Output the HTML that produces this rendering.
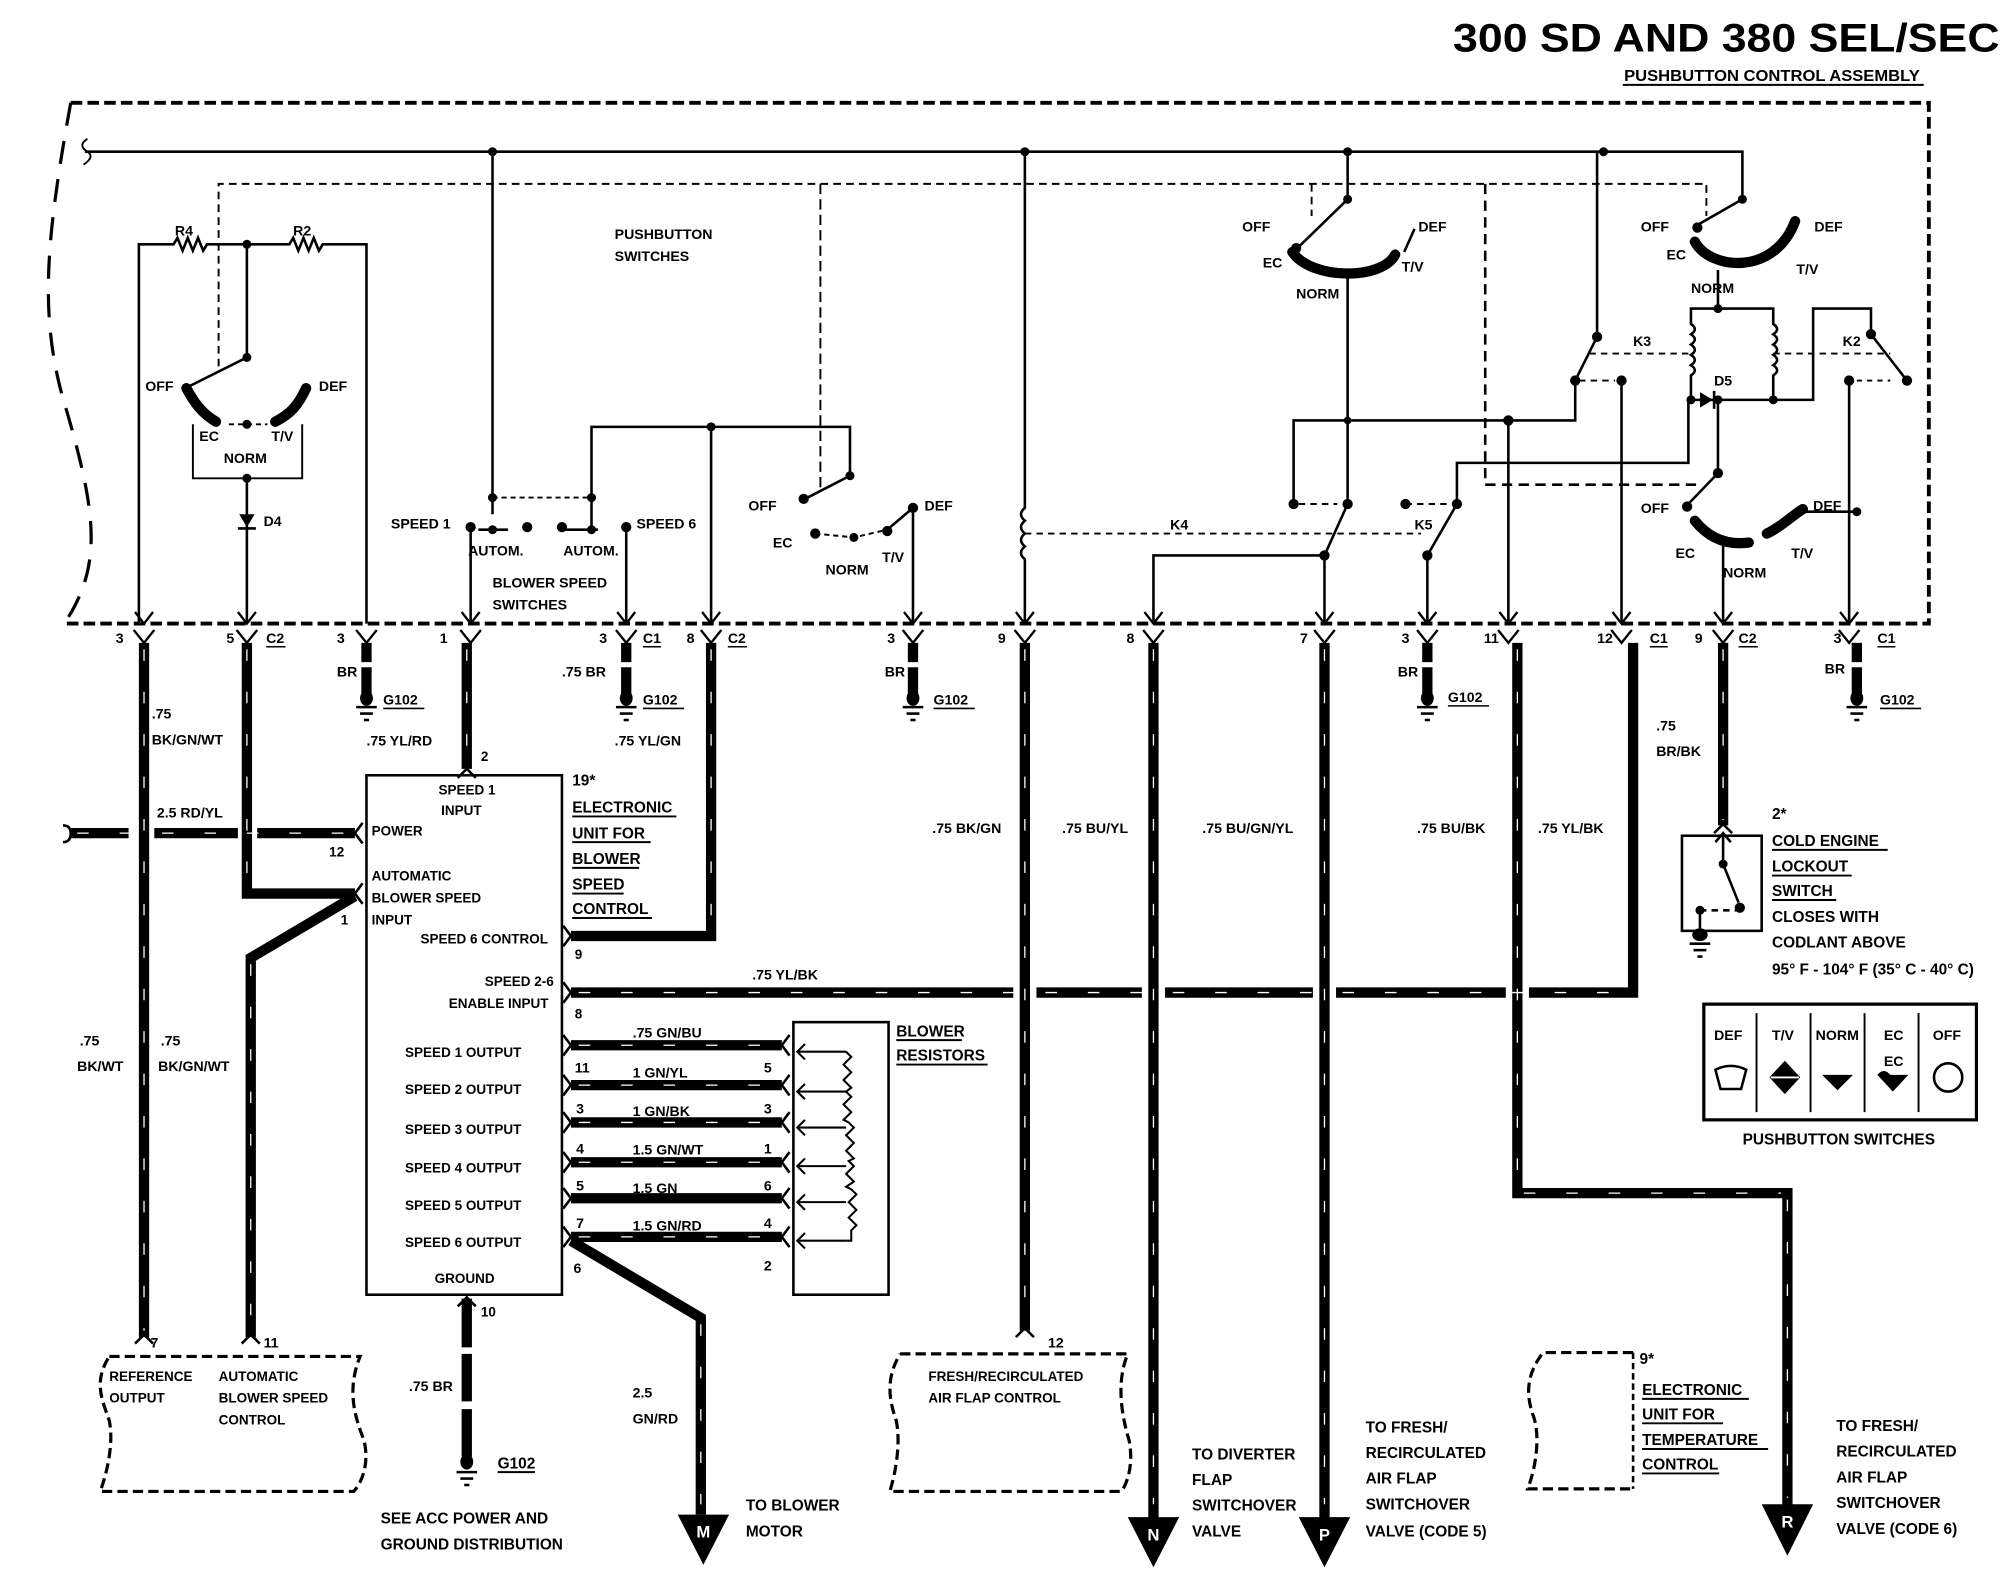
<!DOCTYPE html>
<html><head><meta charset="utf-8"><style>
html,body{margin:0;padding:0;background:#fff;}
svg{display:block;}
text{font-family:"Liberation Sans Narrow","Liberation Sans",sans-serif;font-weight:bold;fill:#000;}
</style></head><body>
<svg width="2006" height="1584" viewBox="0 0 1560 1232" preserveAspectRatio="none" xmlns="http://www.w3.org/2000/svg">
<defs>
<g id="gnd"><line x1="-8" y1="0" x2="8" y2="0" stroke="#000" stroke-width="2"/><line x1="-5" y1="5" x2="5" y2="5" stroke="#000" stroke-width="2"/><line x1="-2" y1="10" x2="2" y2="10" stroke="#000" stroke-width="2"/></g>
</defs>
<rect width="1560" height="1232" fill="#fff"/>
<!-- title -->
<text x="1555" y="40" font-size="31" text-anchor="end" style="font-family:'Liberation Sans',sans-serif" textLength="425" lengthAdjust="spacingAndGlyphs">300 SD AND 380 SEL/SEC</text>
<text x="1263" y="63" font-size="12" textLength="230" lengthAdjust="spacingAndGlyphs">PUSHBUTTON CONTROL ASSEMBLY</text>
<line x1="1262" y1="66" x2="1496" y2="66" stroke="#000" stroke-width="1.5"/>

<g fill="none" stroke="#000">
<!-- assembly border -->
<path d="M55,80 H1500 V485 H50" stroke-width="3" stroke-dasharray="9 4"/>
<path d="M55,80 C35,190 30,250 52,320 C75,400 80,440 50,485" stroke-width="2.5" stroke-dasharray="18 12"/>
<!-- top bus -->
<path d="M68,108 q-8,5 0,10 q6,4 -3,10" stroke-width="1.5"/>
<path d="M66,118 H1355 V155" stroke-width="2"/>
<!-- dashed mechanical link -->
<path d="M170,285 V143 H1327 V168" stroke-width="1.5" stroke-dasharray="6 4"/>
<path d="M1020,143 V168" stroke-width="1.5" stroke-dasharray="6 4"/>
<path d="M1155,143 V377 H1322" stroke-width="2" stroke-dasharray="8 5"/>
<path d="M638,143 V380" stroke-width="1.5" stroke-dasharray="8 4"/>

<!-- R4/R2 -->
<path d="M108,485 V190 H135 l3,-5 l4,10 l4,-10 l4,10 l4,-10 l4,10 l3,-5 H225 l3,-5 l4,10 l4,-10 l4,10 l4,-10 l4,10 l3,-5 H285 V485" stroke-width="2"/>
<path d="M192,190 V278 L148,300" stroke-width="2"/>
<path d="M145,302 C152,315 158,322 168,328" stroke-width="8" stroke-linecap="round"/>
<path d="M238,302 C232,315 226,322 214,328" stroke-width="8" stroke-linecap="round"/>
<path d="M178,330 L208,330" stroke-width="1.5" stroke-dasharray="4 3"/>
<path d="M150,330 V372 H235 V330" stroke-width="1.5"/>
<path d="M192,372 V485" stroke-width="2"/>
<!-- speed switches -->
<path d="M383,118 V400" stroke-width="2"/>
<path d="M383,387 H460" stroke-width="1.5" stroke-dasharray="4 3"/>
<path d="M460,410 V332 H553 V485" stroke-width="2"/>
<path d="M553,332 H661 V370 L628,387" stroke-width="2"/>
<path d="M366,410 V485" stroke-width="2"/>
<path d="M487,410 V485" stroke-width="2"/>
<path d="M372,412 L395,412 M437,412 L465,412" stroke-width="2"/>
<!-- middle switch -->
<path d="M634,415 L664,418 L690,412" stroke-width="1.5" stroke-dasharray="4 3"/>
<path d="M690,412 L710,395 V485" stroke-width="2"/>
<!-- x797 -->
<path d="M797,118 V395 q-6,5 0,10 q-6,5 0,10 q-6,5 0,10 q-6,5 0,10 V485" stroke-width="2"/>
<!-- top middle switch -->
<path d="M1048,118 V155 L1010,192" stroke-width="2"/>
<path d="M1005,196 C1020,218 1075,218 1085,198" stroke-width="8" stroke-linecap="round"/>
<path d="M1092,196 L1100,178" stroke-width="2"/>
<path d="M1048,213 V392 L1030,432 H897 V485" stroke-width="2"/>
<path d="M1030,432 V485" stroke-width="2"/>
<path d="M1006,392 V327 H1225 V296" stroke-width="2"/>
<path d="M1010,392 H1040" stroke-width="1.5" stroke-dasharray="5 4"/>
<path d="M797,415 H1105" stroke-width="1.5" stroke-dasharray="5 4"/>
<!-- K5 -->
<path d="M1093,392 H1128" stroke-width="1.5" stroke-dasharray="5 4"/>
<path d="M1110,485 V432 L1133,392 V360 H1313 V311" stroke-width="2"/>
<path d="M1173,327 V485" stroke-width="2"/>
<!-- K3 -->
<path d="M1242,118 V262 L1225,296" stroke-width="2"/>
<path d="M1261,296 V485" stroke-width="2"/>
<path d="M1228,296 H1256" stroke-width="1.5" stroke-dasharray="5 4"/>
<path d="M1236,275 H1315" stroke-width="1.5" stroke-dasharray="5 4"/>
<!-- right top switch -->
<path d="M1355,155 L1320,175" stroke-width="2"/>
<path d="M1318,188 C1330,210 1380,215 1396,172" stroke-width="8" stroke-linecap="round"/>
<path d="M1336,210 V240" stroke-width="2"/>
<!-- coils -->
<path d="M1315,311 V292 q6,-4 0,-8 q6,-4 0,-8 q6,-4 0,-8 q6,-4 0,-8 q6,-4 0,-8 V240 H1379 V252 q6,4 0,8 q6,4 0,8 q6,4 0,8 q6,4 0,8 q6,4 0,8 V311 H1410 V240 H1455 V260 L1483,296" stroke-width="2"/>
<path d="M1315,311 H1379" stroke-width="2"/>
<path d="M1379,275 H1470" stroke-width="1.5" stroke-dasharray="5 4"/>
<path d="M1438,296 V485" stroke-width="2"/>
<path d="M1444,296 H1470" stroke-width="1.5" stroke-dasharray="4 4"/>
<!-- bottom right switch -->
<path d="M1336,311 V368 L1312,393" stroke-width="2"/>
<path d="M1318,405 C1330,420 1345,424 1360,422" stroke-width="8" stroke-linecap="round"/>
<path d="M1374,415 C1385,410 1395,400 1402,396" stroke-width="8" stroke-linecap="round"/>
<path d="M1402,398 H1444" stroke-width="2"/>
<path d="M1340,422 V485" stroke-width="2"/>
<path d="M1268,485 V360" stroke-width="2" opacity="0"/>
</g>
<!-- diodes -->
<polygon points="186,400 198,400 192,410" fill="#000"/><line x1="185" y1="411" x2="199" y2="411" stroke="#000" stroke-width="2"/>
<polygon points="1322,305 1322,317 1332,311" fill="#000"/><line x1="1333" y1="304" x2="1333" y2="318" stroke="#000" stroke-width="2"/>
<!-- dots -->
<g fill="#000">
<circle cx="383" cy="118" r="3.5"/><circle cx="797" cy="118" r="3.5"/><circle cx="1048" cy="118" r="3.5"/><circle cx="1247" cy="118" r="3.5"/>
<circle cx="192" cy="190" r="3.5"/><circle cx="192" cy="278" r="3.5"/><circle cx="145" cy="302" r="4"/><circle cx="238" cy="302" r="4"/><circle cx="192" cy="330" r="3.5"/><circle cx="192" cy="372" r="3.5"/>
<circle cx="383" cy="387" r="3.5"/><circle cx="460" cy="387" r="3.5"/><circle cx="366" cy="410" r="4"/><circle cx="410" cy="410" r="4"/><circle cx="437" cy="410" r="4"/><circle cx="487" cy="410" r="4"/><circle cx="383" cy="412" r="3.5"/><circle cx="460" cy="412" r="3.5"/>
<circle cx="553" cy="332" r="3.5"/><circle cx="661" cy="370" r="3.5"/><circle cx="625" cy="388" r="4"/><circle cx="634" cy="415" r="4"/><circle cx="664" cy="418" r="3.5"/><circle cx="690" cy="413" r="4"/><circle cx="710" cy="395" r="4"/>
<circle cx="1048" cy="155" r="3.5"/><circle cx="1008" cy="193" r="4"/><circle cx="1048" cy="327" r="3"/><circle cx="1006" cy="392" r="4"/><circle cx="1048" cy="392" r="4"/><circle cx="1030" cy="432" r="4"/>
<circle cx="1093" cy="392" r="4"/><circle cx="1133" cy="392" r="4"/><circle cx="1110" cy="432" r="4"/><circle cx="1173" cy="327" r="4"/>
<circle cx="1242" cy="262" r="4"/><circle cx="1225" cy="296" r="4"/><circle cx="1261" cy="296" r="4"/>
<circle cx="1355" cy="155" r="3.5"/><circle cx="1320" cy="177" r="4"/><circle cx="1336" cy="240" r="3.5"/><circle cx="1315" cy="311" r="3.5"/><circle cx="1336" cy="311" r="3.5"/><circle cx="1379" cy="311" r="3.5"/>
<circle cx="1455" cy="260" r="4"/><circle cx="1483" cy="296" r="4"/><circle cx="1438" cy="296" r="4"/>
<circle cx="1336" cy="368" r="4"/><circle cx="1312" cy="394" r="4"/><circle cx="1444" cy="398" r="3.5"/>
</g>
<!-- labels top -->
<g font-size="11">
<text x="136" y="183">R4</text><text x="228" y="183">R2</text>
<text x="113" y="304">OFF</text><text x="248" y="304">DEF</text><text x="155" y="343">EC</text><text x="211" y="343">T/V</text><text x="174" y="360">NORM</text><text x="205" y="409">D4</text>
<text x="478" y="186">PUSHBUTTON</text><text x="478" y="203">SWITCHES</text>
<text x="304" y="411">SPEED 1</text><text x="495" y="411">SPEED 6</text>
<text x="364" y="432">AUTOM.</text><text x="438" y="432">AUTOM.</text>
<text x="383" y="457">BLOWER SPEED</text><text x="383" y="474">SWITCHES</text>
<text x="582" y="397">OFF</text><text x="719" y="397">DEF</text><text x="601" y="426">EC</text><text x="642" y="447">NORM</text><text x="686" y="437">T/V</text>
<text x="966" y="180">OFF</text><text x="1103" y="180">DEF</text><text x="982" y="208">EC</text><text x="1090" y="211">T/V</text><text x="1008" y="232">NORM</text>
<text x="910" y="412">K4</text><text x="1100" y="412">K5</text>
<text x="1276" y="180">OFF</text><text x="1411" y="180">DEF</text><text x="1296" y="202">EC</text><text x="1397" y="213">T/V</text><text x="1315" y="228">NORM</text>
<text x="1270" y="269">K3</text><text x="1433" y="269">K2</text><text x="1333" y="300">D5</text>
<text x="1276" y="399">OFF</text><text x="1410" y="397">DEF</text><text x="1303" y="434">EC</text><text x="1340" y="449">NORM</text><text x="1393" y="434">T/V</text>
</g>
<!-- connector row -->
<g stroke="#000" stroke-width="1.8" fill="none">
<path d="M105,476 L112,485 L119,476 M185,476 L192,485 L199,476 M359,476 L366,485 L373,476 M480,476 L487,485 L494,476 M546,476 L553,485 L560,476 M703,476 L710,485 L717,476 M790,476 L797,485 L804,476 M890,476 L897,485 L904,476 M1023,476 L1030,485 L1037,476 M1103,476 L1110,485 L1117,476 M1166,476 L1173,485 L1180,476 M1254,476 L1261,485 L1268,476 M1333,476 L1340,485 L1347,476 M1431,476 L1438,485 L1445,476"/>
<path d="M104,490 L112,500 L120,490 M184,490 L192,500 L200,490 M277,490 L285,500 L293,490 M358,490 L366,500 L374,490 M479,490 L487,500 L495,490 M545,490 L553,500 L561,490 M702,490 L710,500 L718,490 M789,490 L797,500 L805,490 M889,490 L897,500 L905,490 M1022,490 L1030,500 L1038,490 M1102,490 L1110,500 L1118,490 M1165,490 L1173,500 L1181,490 M1253,490 L1261,500 L1269,490 M1332,490 L1340,500 L1348,490 M1430,490 L1438,500 L1446,490"/>
</g>
<g font-size="11">
<text x="90" y="500">3</text><text x="176" y="500">5</text><text x="207" y="500">C2</text><text x="262" y="500">3</text><text x="342" y="500">1</text><text x="466" y="500">3</text><text x="500" y="500">C1</text><text x="534" y="500">8</text><text x="566" y="500">C2</text>
<text x="690" y="500">3</text><text x="776" y="500">9</text><text x="876" y="500">8</text><text x="1011" y="500">7</text><text x="1090" y="500">3</text><text x="1154" y="500">11</text><text x="1242" y="500">12</text><text x="1283" y="500">C1</text><text x="1318" y="500">9</text><text x="1352" y="500">C2</text><text x="1426" y="500">3</text><text x="1460" y="500">C1</text>
</g>
<g stroke="#000" stroke-width="1.2"><line x1="207" y1="503" x2="222" y2="503"/><line x1="500" y1="503" x2="514" y2="503"/><line x1="566" y1="503" x2="581" y2="503"/><line x1="1283" y1="503" x2="1297" y2="503"/><line x1="1352" y1="503" x2="1367" y2="503"/><line x1="1460" y1="503" x2="1474" y2="503"/></g>
<!-- ground stubs -->
<g>
<g transform="translate(285,0)"><line x1="0" y1="500" x2="0" y2="515" stroke="#000" stroke-width="8"/><line x1="0" y1="519" x2="0" y2="545" stroke="#000" stroke-width="8"/><ellipse cx="0" cy="543" rx="5" ry="6" fill="#000"/><use href="#gnd" y="550"/></g>
<g transform="translate(487,0)"><line x1="0" y1="500" x2="0" y2="515" stroke="#000" stroke-width="8"/><line x1="0" y1="519" x2="0" y2="545" stroke="#000" stroke-width="8"/><ellipse cx="0" cy="543" rx="5" ry="6" fill="#000"/><use href="#gnd" y="550"/></g>
<g transform="translate(710,0)"><line x1="0" y1="500" x2="0" y2="515" stroke="#000" stroke-width="8"/><line x1="0" y1="519" x2="0" y2="545" stroke="#000" stroke-width="8"/><ellipse cx="0" cy="543" rx="5" ry="6" fill="#000"/><use href="#gnd" y="550"/></g>
<g transform="translate(1110,0)"><line x1="0" y1="500" x2="0" y2="515" stroke="#000" stroke-width="8"/><line x1="0" y1="519" x2="0" y2="545" stroke="#000" stroke-width="8"/><ellipse cx="0" cy="543" rx="5" ry="6" fill="#000"/><use href="#gnd" y="550"/></g>
<g transform="translate(1444,0)"><line x1="0" y1="500" x2="0" y2="515" stroke="#000" stroke-width="8"/><line x1="0" y1="519" x2="0" y2="545" stroke="#000" stroke-width="8"/><ellipse cx="0" cy="543" rx="5" ry="6" fill="#000"/><use href="#gnd" y="550"/></g>
</g>
<g font-size="11">
<text x="262" y="526">BR</text><text x="298" y="548">G102</text>
<text x="437" y="526">.75 BR</text><text x="500" y="548">G102</text>
<text x="688" y="526">BR</text><text x="726" y="548">G102</text>
<text x="1087" y="526">BR</text><text x="1126" y="546">G102</text>
<text x="1419" y="524">BR</text><text x="1462" y="548">G102</text>
</g>
<g stroke="#000" stroke-width="1.2"><line x1="298" y1="551" x2="330" y2="551"/><line x1="500" y1="551" x2="532" y2="551"/><line x1="726" y1="551" x2="758" y2="551"/><line x1="1126" y1="549" x2="1158" y2="549"/><line x1="1462" y1="551" x2="1494" y2="551"/></g>

<!-- thick wires -->
<g fill="none" stroke="#000" stroke-width="8">
<path d="M112,500 V1040"/>
<path d="M192,500 V695 H276"/>
<path d="M276,697 L195,745 V1040"/>
<path d="M55,648 H100 M120,648 H185 M200,648 H276"/>
<path d="M363,500 V598"/>
<path d="M553,500 V728 H444"/>
<path d="M797,500 V1035"/>
<path d="M444,772 H788 M806,772 H888 M906,772 H1021 M1039,772 H1171 M1189,772 H1270 V500"/>
<path d="M897,500 V1182"/>
<path d="M1030,500 V1182"/>
<path d="M1180,500 V928 H1390 V1172"/>
<path d="M1340,500 V642"/>
<path d="M444,813 H608 M444,844 H608 M444,873 H608 M444,904 H608 M444,932 H608 M444,962 H608"/>
<path d="M444,965 L545,1025 V1178"/>
<path d="M363,1010 V1048 M363,1053 V1090 M363,1096 V1133"/>
</g>
<g fill="none" stroke="#fff" stroke-width="1" stroke-dasharray="9 24">
<path d="M112,505 V1035"/><path d="M192,505 V690"/><path d="M195,750 V1035"/><path d="M363,505 V593"/><path d="M553,505 V723"/><path d="M797,505 V1030"/><path d="M897,505 V1170"/><path d="M1030,505 V1170"/><path d="M1180,505 V923"/><path d="M1390,933 V1165"/><path d="M1340,505 V638"/><path d="M545,1030 V1170"/>
<path d="M450,772 H1265"/><path d="M450,813 H600 M450,844 H600 M450,873 H600 M450,904 H600 M450,962 H600"/><path d="M60,648 H270"/><path d="M1185,928 H1385"/>
</g>
<!-- pin forks -->
<g stroke="#000" stroke-width="2" fill="none">
<path d="M282,640 L276,648 L282,656 M282,687 L276,695 L282,703 M356,605 L363,598 L370,605 M438,720 L444,728 L438,736 M438,764 L444,772 L438,780 M438,805 L444,813 L438,821 M438,836 L444,844 L438,852 M438,865 L444,873 L438,881 M438,896 L444,904 L438,912 M438,924 L444,932 L438,940 M438,954 L444,962 L438,970 M614,805 L608,813 L614,821 M614,836 L608,844 L614,852 M614,865 L608,873 L614,881 M614,896 L608,904 L614,912 M614,924 L608,932 L614,940 M614,954 L608,962 L614,970 M356,1016 L363,1009 L370,1016 M105,1045 L112,1038 L119,1045 M188,1045 L195,1038 L202,1045 M790,1040 L797,1033 L804,1040 M1333,648 L1340,641 L1347,648"/>
<path d="M49,642 Q55,642 55,648 Q55,655 49,655"/>
</g>
<!-- box -->
<rect x="285" y="603" width="152" height="404" fill="none" stroke="#000" stroke-width="2"/>
<g font-size="10.5">
<text x="341" y="618">SPEED 1</text><text x="343" y="634">INPUT</text>
<text x="289" y="650">POWER</text><text x="256" y="666">12</text>
<text x="289" y="685">AUTOMATIC</text><text x="289" y="702">BLOWER SPEED</text><text x="289" y="719">INPUT</text><text x="265" y="719">1</text>
<text x="327" y="734">SPEED 6 CONTROL</text><text x="447" y="746">9</text>
<text x="377" y="767">SPEED 2-6</text><text x="349" y="784">ENABLE INPUT</text><text x="447" y="792">8</text>
<text x="315" y="822">SPEED 1 OUTPUT</text><text x="315" y="851">SPEED 2 OUTPUT</text><text x="315" y="882">SPEED 3 OUTPUT</text><text x="315" y="912">SPEED 4 OUTPUT</text><text x="315" y="941">SPEED 5 OUTPUT</text><text x="315" y="970">SPEED 6 OUTPUT</text><text x="338" y="998">GROUND</text>
<text x="374" y="592">2</text><text x="374" y="1024">10</text>
</g>
<g font-size="12">
<text x="445" y="611">19*</text><text x="445" y="632">ELECTRONIC</text><text x="445" y="652">UNIT FOR</text><text x="445" y="672">BLOWER</text><text x="445" y="692">SPEED</text><text x="445" y="711">CONTROL</text>
</g>
<g stroke="#000" stroke-width="1.5"><line x1="445" y1="635" x2="526" y2="635"/><line x1="445" y1="655" x2="506" y2="655"/><line x1="445" y1="675" x2="497" y2="675"/><line x1="445" y1="695" x2="485" y2="695"/><line x1="445" y1="714" x2="507" y2="714"/></g>
<g font-size="11">
<text x="585" y="762">.75 YL/BK</text><text x="492" y="807">.75 GN/BU</text>
<text x="447" y="834">11</text><text x="492" y="838">1 GN/YL</text><text x="594" y="834">5</text>
<text x="448" y="866">3</text><text x="492" y="868">1 GN/BK</text><text x="594" y="866">3</text>
<text x="448" y="897">4</text><text x="492" y="898">1.5 GN/WT</text><text x="594" y="897">1</text>
<text x="448" y="926">5</text><text x="492" y="928">1.5 GN</text><text x="594" y="926">6</text>
<text x="448" y="955">7</text><text x="492" y="957">1.5 GN/RD</text><text x="594" y="955">4</text>
<text x="446" y="990">6</text><text x="594" y="988">2</text>
</g>
<!-- blower resistors -->
<rect x="617" y="795" width="74" height="212" fill="none" stroke="#000" stroke-width="2"/>
<g stroke="#000" stroke-width="1.6" fill="none">
<path d="M620,818 H658 M620,849 H658 M620,877 H658 M620,907 H658 M620,935 H658 M620,965 H658"/>
<path d="M626,812 L620,818 L626,824 M626,843 L620,849 L626,855 M626,871 L620,877 L626,883 M626,901 L620,907 L626,913 M626,929 L620,935 L626,941 M626,959 L620,965 L626,971"/>
<path d="M658,818 l4,4 l-6,6 l6,6 l-6,6 l6,6 l-4,3 l4,4 l-6,6 l6,6 l-6,6 l4,2 l4,4 l-6,6 l6,6 l-6,6 l6,6 l-4,2 l4,4 l-6,6 l6,6 l-6,4 l4,2 l4,4 l-6,6 l6,6 l-6,6 l6,6 l-4,4 V965 H658"/>
</g>
<g font-size="12"><text x="697" y="806">BLOWER</text><text x="697" y="825">RESISTORS</text></g>
<g stroke="#000" stroke-width="1.5"><line x1="697" y1="809" x2="748" y2="809"/><line x1="697" y1="828" x2="768" y2="828"/></g>
<!-- wire labels -->
<g font-size="11">
<text x="118" y="559">.75</text><text x="118" y="579">BK/GN/WT</text>
<text x="285" y="580">.75 YL/RD</text><text x="478" y="580">.75 YL/GN</text>
<text x="122" y="636">2.5 RD/YL</text>
<text x="62" y="813">.75</text><text x="60" y="833">BK/WT</text><text x="125" y="813">.75</text><text x="123" y="833">BK/GN/WT</text>
<text x="725" y="648">.75 BK/GN</text><text x="826" y="648">.75 BU/YL</text><text x="935" y="648">.75 BU/GN/YL</text><text x="1102" y="648">.75 BU/BK</text><text x="1196" y="648">.75 YL/BK</text>
<text x="1288" y="568">.75</text><text x="1288" y="588">BR/BK</text>
<text x="117" y="1048">7</text><text x="205" y="1048">11</text><text x="815" y="1048">12</text>
<text x="318" y="1082">.75 BR</text><text x="492" y="1087">2.5</text><text x="492" y="1107">GN/RD</text>
</g>
<!-- cold engine lockout -->
<rect x="1308" y="650" width="62" height="74" fill="none" stroke="#000" stroke-width="2"/>
<g stroke="#000" stroke-width="2" fill="none"><path d="M1340,650 V672 L1352,702"/><path d="M1322,708 H1350" stroke-dasharray="5 4"/><path d="M1322,708 V722"/><path d="M1334,655 L1340,648 L1346,655"/></g>
<g fill="#000"><circle cx="1340" cy="672" r="3.5"/><circle cx="1353" cy="706" r="4"/><circle cx="1322" cy="708" r="3.5"/><ellipse cx="1322" cy="727" rx="6" ry="5"/></g>
<use href="#gnd" x="1322" y="734"/>
<g font-size="12">
<text x="1378" y="637">2*</text><text x="1378" y="658">COLD ENGINE</text><text x="1378" y="678">LOCKOUT</text><text x="1378" y="697">SWITCH</text><text x="1378" y="717">CLOSES WITH</text><text x="1378" y="737">CODLANT ABOVE</text><text x="1378" y="758">95° F - 104° F (35° C - 40° C)</text>
</g>
<g stroke="#000" stroke-width="1.5"><line x1="1378" y1="661" x2="1468" y2="661"/><line x1="1378" y1="681" x2="1440" y2="681"/><line x1="1378" y1="700" x2="1428" y2="700"/></g>
<!-- pushbutton legend -->
<rect x="1325" y="781" width="212" height="90" fill="none" stroke="#000" stroke-width="2.5"/>
<g stroke="#000" stroke-width="1.5"><line x1="1366" y1="788" x2="1366" y2="865"/><line x1="1408" y1="788" x2="1408" y2="865"/><line x1="1450" y1="788" x2="1450" y2="865"/><line x1="1492" y1="788" x2="1492" y2="865"/></g>
<g font-size="11"><text x="1333" y="809">DEF</text><text x="1378" y="809">T/V</text><text x="1412" y="809">NORM</text><text x="1465" y="809">EC</text><text x="1465" y="829">EC</text><text x="1503" y="809">OFF</text></g>
<path d="M1334,832 Q1346,826 1358,832 L1354,847 H1338 Z" fill="none" stroke="#000" stroke-width="2"/>
<polygon points="1388,825 1400,838 1388,851 1376,838" fill="#000"/><line x1="1377" y1="838" x2="1399" y2="838" stroke="#fff" stroke-width="1.5"/>
<polygon points="1417,836 1441,836 1429,848" fill="#000"/>
<path d="M1460,836 Q1465,830 1470,836 H1484 L1472,849 Z" fill="#000"/>
<circle cx="1515" cy="838" r="11" fill="none" stroke="#000" stroke-width="2"/>
<text x="1430" y="890" font-size="12" text-anchor="middle">PUSHBUTTON SWITCHES</text>

<!-- bottom dashed boxes -->
<g fill="none" stroke="#000" stroke-width="2.5" stroke-dasharray="8 4">
<path d="M85,1055 H280 C270,1080 275,1100 283,1120 C288,1140 280,1155 275,1160 H78 C85,1140 88,1120 85,1105 C80,1090 72,1075 85,1055"/>
<path d="M700,1053 H877 C868,1075 872,1100 878,1120 C882,1140 876,1155 872,1160 H692 C698,1140 700,1120 697,1105 C690,1085 690,1070 700,1053"/>
<path d="M1270,1052 H1200 C1190,1065 1185,1080 1192,1100 C1198,1115 1195,1140 1188,1158 H1270"/>
</g>
<line x1="1270" y1="1052" x2="1270" y2="1158" stroke="#000" stroke-width="2" stroke-dasharray="5 3"/>
<g font-size="10.5">
<text x="85" y="1074">REFERENCE</text><text x="85" y="1091">OUTPUT</text>
<text x="170" y="1074">AUTOMATIC</text><text x="170" y="1091">BLOWER SPEED</text><text x="170" y="1108">CONTROL</text>
<text x="722" y="1074">FRESH/RECIRCULATED</text><text x="722" y="1091">AIR FLAP CONTROL</text>
</g>
<use href="#gnd" x="363" y="1145"/><ellipse cx="363" cy="1137" rx="5" ry="6" fill="#000"/>
<g font-size="12">
<text x="387" y="1142">G102</text>
<text x="296" y="1185">SEE ACC POWER AND</text><text x="296" y="1205">GROUND DISTRIBUTION</text>
<text x="580" y="1175">TO BLOWER</text><text x="580" y="1195">MOTOR</text>
<text x="927" y="1135">TO DIVERTER</text><text x="927" y="1155">FLAP</text><text x="927" y="1175">SWITCHOVER</text><text x="927" y="1195">VALVE</text>
<text x="1062" y="1114">TO FRESH/</text><text x="1062" y="1134">RECIRCULATED</text><text x="1062" y="1154">AIR FLAP</text><text x="1062" y="1174">SWITCHOVER</text><text x="1062" y="1195">VALVE (CODE 5)</text>
<text x="1275" y="1061">9*</text><text x="1277" y="1085">ELECTRONIC</text><text x="1277" y="1104">UNIT FOR</text><text x="1277" y="1124">TEMPERATURE</text><text x="1277" y="1143">CONTROL</text>
<text x="1428" y="1113">TO FRESH/</text><text x="1428" y="1133">RECIRCULATED</text><text x="1428" y="1153">AIR FLAP</text><text x="1428" y="1173">SWITCHOVER</text><text x="1428" y="1193">VALVE (CODE 6)</text>
</g>
<g stroke="#000" stroke-width="1.5"><line x1="387" y1="1145" x2="416" y2="1145"/><line x1="1277" y1="1088" x2="1360" y2="1088"/><line x1="1277" y1="1107" x2="1340" y2="1107"/><line x1="1277" y1="1127" x2="1375" y2="1127"/><line x1="1277" y1="1146" x2="1337" y2="1146"/></g>
<!-- arrows -->
<polygon points="527,1178 567,1178 547,1217" fill="#000"/><text x="547" y="1196" font-size="13" text-anchor="middle" style="fill:#fff">M</text>
<polygon points="877,1180 917,1180 897,1219" fill="#000"/><text x="897" y="1198" font-size="13" text-anchor="middle" style="fill:#fff">N</text>
<polygon points="1010,1180 1050,1180 1030,1219" fill="#000"/><text x="1030" y="1198" font-size="13" text-anchor="middle" style="fill:#fff">P</text>
<polygon points="1370,1170 1410,1170 1390,1210" fill="#000"/><text x="1390" y="1188" font-size="13" text-anchor="middle" style="fill:#fff">R</text>
</svg>
</body></html>
